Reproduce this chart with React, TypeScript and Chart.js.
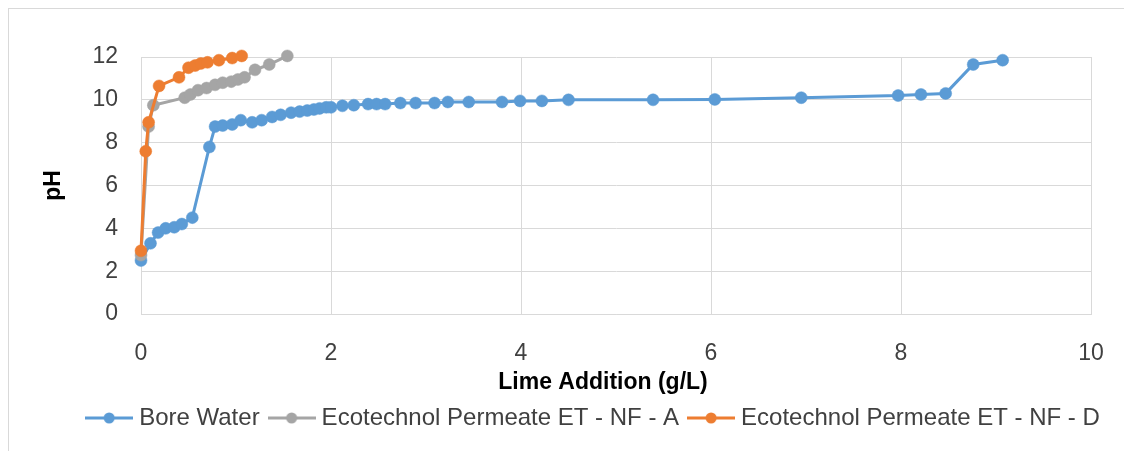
import React, { useEffect, useRef } from "react";
import { Chart, registerables } from "chart.js";

Chart.register(...registerables);

// ---- data ----
const seriesNames = [
  "Bore Water",
  "Ecotechnol Permeate ET - NF - A",
  "Ecotechnol Permeate ET - NF - D",
];
const seriesColors = ["#5B9BD5", "#A5A5A5", "#ED7D31"];

const boreX = [0, 0.1, 0.18, 0.26, 0.35, 0.43, 0.54, 0.72, 0.78, 0.86, 0.96, 1.05, 1.17, 1.27, 1.38, 1.47, 1.58, 1.67, 1.75, 1.82, 1.88, 1.95, 2.0, 2.12, 2.24, 2.39, 2.48, 2.57, 2.73, 2.89, 3.09, 3.23, 3.45, 3.8, 3.99, 4.22, 4.5, 5.39, 6.04, 6.95, 7.97, 8.21, 8.47, 8.76, 9.07];
const boreY = [2.5, 3.3, 3.8, 4.0, 4.05, 4.2, 4.5, 7.8, 8.75, 8.8, 8.85, 9.05, 8.95, 9.05, 9.2, 9.3, 9.4, 9.45, 9.5, 9.55, 9.6, 9.65, 9.65, 9.72, 9.75, 9.8, 9.8, 9.8, 9.85, 9.85, 9.85, 9.9, 9.9, 9.9, 9.95, 9.95, 10.0, 10.0, 10.02, 10.1, 10.2, 10.25, 10.3, 11.65, 11.85];

const etaX = [0, 0.08, 0.13, 0.46, 0.52, 0.6, 0.69, 0.78, 0.86, 0.95, 1.02, 1.09, 1.2, 1.35, 1.54];
const etaY = [2.75, 8.75, 9.75, 10.1, 10.25, 10.45, 10.55, 10.7, 10.8, 10.85, 10.95, 11.05, 11.4, 11.65, 12.05];

const etdX = [0, 0.05, 0.08, 0.19, 0.4, 0.5, 0.57, 0.63, 0.7, 0.82, 0.96, 1.06];
const etdY = [2.95, 7.6, 8.95, 10.65, 11.05, 11.5, 11.6, 11.7, 11.75, 11.85, 11.95, 12.05];

const xTitle = "Lime Addition (g/L)";
const yTitle = "pH";

const FONT = "'Liberation Sans', Arial, sans-serif";

function pts(xs: number[], ys: number[]) {
  return xs.map((x, i) => ({ x, y: ys[i] }));
}

function makeIcon(color: string) {
  const c = document.createElement("canvas");
  c.width = 48;
  c.height = 14;
  const ctx = c.getContext("2d")!;
  ctx.strokeStyle = color;
  ctx.lineWidth = 3;
  ctx.beginPath();
  ctx.moveTo(0, 7);
  ctx.lineTo(48, 7);
  ctx.stroke();
  ctx.fillStyle = color;
  ctx.beginPath();
  ctx.arc(24, 7, 5.5, 0, Math.PI * 2);
  ctx.fill();
  return c;
}

export default function App() {
  const ref = useRef<HTMLCanvasElement | null>(null);

  useEffect(() => {
    document.documentElement.style.overflow = "hidden";
    const canvas = ref.current;
    if (!canvas) return;
    const icons = seriesColors.map(makeIcon);
    const data = [pts(boreX, boreY), pts(etaX, etaY), pts(etdX, etdY)];

    const xTitlePlugin = {
      id: "xTitlePlugin",
      afterDraw(chart: any) {
        const { ctx, chartArea } = chart;
        ctx.save();
        ctx.font = `bold 23px ${FONT}`;
        ctx.fillStyle = "#000000";
        ctx.textAlign = "center";
        ctx.textBaseline = "middle";
        ctx.fillText(xTitle, (chartArea.left + chartArea.right) / 2 - 13, chartArea.bottom + 69);
        ctx.restore();
      },
    };
    const legendShift = {
      id: "legendShift",
      afterLayout(chart: any) {
        if (chart.legend) {
          chart.legend.left += 33;
          chart.legend.right += 33;
        }
      },
    };

    const chart = new Chart(canvas, {
      type: "scatter",
      data: {
        datasets: data.map((d, i) => ({
          label: seriesNames[i],
          data: d,
          showLine: true,
          clip: false,
          borderColor: seriesColors[i],
          backgroundColor: seriesColors[i],
          borderWidth: 3,
          pointRadius: 6,
          pointBorderWidth: 0.5,
          pointBorderColor: seriesColors[i],
          pointBackgroundColor: seriesColors[i],
          order: 3 - i,
        })),
      },
      options: {
        animation: false,
        responsive: false,
        maintainAspectRatio: false,
        layout: { padding: { left: 25, right: 41, top: 48, bottom: 11 } },
        plugins: {
          tooltip: { enabled: false },
          legend: {
            position: "bottom",
            labels: {
              usePointStyle: true,
              pointStyleWidth: 36,
              boxHeight: 24,
              padding: 14,
              color: "#404040",
              font: { family: FONT, size: 24 },
              generateLabels: (ch: any) =>
                Chart.defaults.plugins.legend.labels
                  .generateLabels(ch)
                  .sort((a: any, b: any) => a.datasetIndex - b.datasetIndex)
                  .map((l: any) => ({ ...l, pointStyle: icons[l.datasetIndex] })),
            },
          },
        },
        scales: {
          x: {
            type: "linear",
            min: 0,
            max: 10,
            ticks: {
              stepSize: 2,
              padding: 26,
              color: "#404040",
              font: { family: FONT, size: 23 },
            },
            grid: { color: "#d9d9d9", lineWidth: 1, drawTicks: false },
            border: { color: "#d9d9d9", width: 1 },
            afterFit: (s: any) => {
              s.height = 78;
            },
          },
          y: {
            min: 0,
            max: 12,
            ticks: {
              stepSize: 2,
              padding: 23,
              color: "#404040",
              font: { family: FONT, size: 23 },
            },
            grid: { color: "#d9d9d9", lineWidth: 1, drawTicks: false },
            border: { color: "#d9d9d9", width: 1 },
            title: {
              display: true,
              text: yTitle,
              color: "#000000",
              font: { family: FONT, size: 23, weight: "bold" },
              padding: { top: 6, bottom: 4 },
            },
            afterFit: (s: any) => {
              s.width = 107;
            },
          },
        },
      },
      plugins: [xTitlePlugin, legendShift],
    } as any);
    return () => chart.destroy();
  }, []);

  return (
    <div
      style={{
        borderLeft: "1px solid #d9d9d9",
        borderTop: "1px solid #d9d9d9",
        width: 1123,
        height: 442,
        background: "#fff",
      }}
    >
      <canvas ref={ref} width={1123} height={442} style={{ display: "block" }} />
    </div>
  );
}
